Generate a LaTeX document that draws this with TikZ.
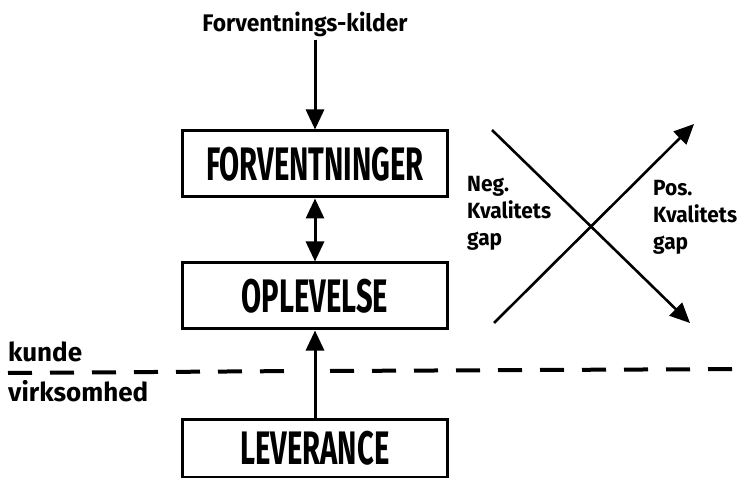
\documentclass[tikz,border=0pt]{standalone}
\usepackage{fontspec}
\setmainfont{Fira Sans}
\newfontfamily\handfont{Fira Sans}[FakeStretch=0.62]
\newfontfamily\notefont{Fira Sans}[FakeStretch=0.95]
\newfontfamily\sidefont{Fira Sans}
\usetikzlibrary{arrows.meta}
\tikzset{
  stage/.style={draw, line width=3pt, minimum width=265pt, minimum height=66pt,
    font=\handfont\bfseries\fontsize{47}{47}\selectfont, inner sep=0pt},
  flow/.style={line width=3pt, -{Triangle[length=20pt,width=18pt]}},
  gapline/.style={line width=2.6pt, -{Triangle[length=20pt,width=18pt]}},
  note/.style={font=\notefont\bfseries\fontsize{22}{27}\selectfont, align=left, inner sep=0pt},
  side/.style={font=\sidefont\bfseries\fontsize{26}{26}\selectfont, inner sep=0pt},
  boundary/.style={line width=4pt, dash pattern=on 24pt off 18pt}
}
\begin{document}
\begin{tikzpicture}[x=1pt,y=-1pt]
\useasboundingbox (0,0) rectangle (747,478);

% chain of stages
\node[note, font=\notefont\bfseries\fontsize{24}{24}\selectfont] (src) at (305,24) {Forventnings-kilder};
\node[stage] (forv) at (315,164) {FORVENTNINGER};
\node[stage] (opl) at (315,296) {OPLEVELSE};
\node[stage, minimum height=58pt] (lev) at (315,448) {LEVERANCE};

\coordinate (srcend) at (315,40);
\draw[flow] (srcend) -- (forv.north);
\draw[line width=3pt, {Triangle[length=20pt,width=18pt]}-{Triangle[length=20pt,width=18pt]}] (forv.south) -- (opl.north);
\draw[flow] (lev.north) -- (opl.south);

% customer / company boundary, open where the delivery arrow crosses it
\coordinate (bl) at (8,373);
\coordinate (bm1) at (300,371);
\coordinate (bm2) at (330,371);
\coordinate (br) at (747,369);
\draw[boundary] (bl) -- (bm1);
\draw[boundary] (bm2) -- (br);
\node[side, anchor=south west] (kunde) at (8,362) {kunde};
\node[side, anchor=north west] (virk) at (8,380) {virksomhed};

% quality gap cross
\coordinate (a1) at (492,130);
\coordinate (a2) at (690,323);
\coordinate (b1) at (494,323);
\coordinate (b2) at (694,124);
\draw[gapline] (a1) -- (a2);
\draw[gapline] (b1) -- (b2);
\node[note, anchor=north west] (neg) at (467,176) {Neg.\\Kvalitets\\gap};
\node[note, anchor=north west] (pos) at (653,180) {Pos.\\Kvalitets\\gap};
\end{tikzpicture}
\end{document}
